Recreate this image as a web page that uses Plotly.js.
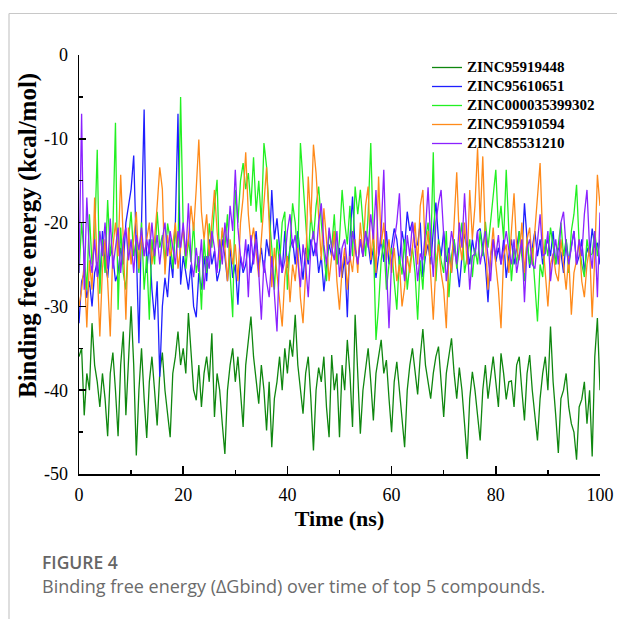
<!DOCTYPE html>
<html>
<head>
<meta charset="utf-8">
<script src="https://cdn.plot.ly/plotly-3.0.1.min.js"></script>
<style>
html,body{margin:0;padding:0;background:#fff;}
#chart{width:617px;height:619px;}
</style>
</head>
<body>
<div id="chart"></div>
<script>
// Series names
const seriesNames = ["ZINC95919448", "ZINC95610651", "ZINC000035399302", "ZINC95910594", "ZINC85531210"];
const seriesColors = ["#0f870f", "#1f1fff", "#22f022", "#ff8a1a", "#8a22ff"];

// Time axis (ns), sampled every 0.5 ns
const timeStep = 0.5;

const zinc95919448 = [
-36,-35,-43,-38,-40,-32,-37,-39,-42,-38,
-41,-45.5,-38,-35.5,-40,-45.5,-37,-33,-43,-36,
-30,-37,-47.8,-40,-35,-41,-45.7,-39,-36,-40,
-44.2,-38,-35.5,-40,-43,-45.6,-38,-36,-33,-37,
-35,-38,-30.8,-36,-40,-41.2,-37,-42,-38,-36,
-39,-33.2,-43.2,-38,-40,-44,-47.6,-40,-37,-35,
-39,-36,-40,-44.4,-37,-34,-31.2,-36,-39,-41.6,
-37,-40,-44.8,-39,-46.8,-41,-39,-36,-40,-35,
-38,-34,-36,-31,-37,-40,-42.8,-38,-36,-41,
-47.2,-40,-37.3,-39,-36,-42,-45.6,-35.8,-40,-38,
-45.6,-37,-40,-34,-38,-44.4,-31,-38,-45.2,-40,
-37.3,-35,-39,-43.6,-38,-36,-34,-38,-36.4,-41,
-45,-39,-36.6,-40,-43,-46.8,-40,-37,-35,-38,
-40.5,-36,-32.7,-37,-39.3,-41,-38,-36,-34.8,-39,
-43.2,-38,-36,-33.8,-38,-41,-37.3,-40,-44,-48.2,
-41,-37.8,-40,-43,-46,-40,-37,-41,-38.5,-36,
-39,-42,-35.6,-38,-41.1,-39,-38.9,-42,-37,-36,
-40,-43.6,-38,-35.8,-40,-43,-46,-41,-38,-36,
-40,-32.4,-39,-43,-47.5,-41,-40,-38,-42,-44,
-45,-48.3,-42,-41.1,-39,-44,-40,-47.9,-36,-31.4,
-40];

const zinc95610651 = [
-32,-27,-26,-29,-27,-30,-26,-24.7,-27,-21,
-25,-26.6,-23,-24,-27,-26,-23,-25,-20,-18,
-16,-12,-24,-34.4,-20,-6.5,-26,-22,-28,-31.6,
-27,-38.4,-30,-26.6,-28.9,-24,-26.6,-20,-7,-27.4,
-24,-26,-28,-25,-30,-31.3,-26,-28,-24,-27,
-22,-25,-23.4,-27,-25.7,-22,-24,-27,-23,-26.6,
-25,-29.8,-24,-26,-25,-22.6,-26,-24,-21,-25.4,
-23,-26,-22,-24,-16.1,-22,-19.5,-23,-26,-21,
-25.4,-23,-22,-25,-21,-24,-26.8,-23,-25,-22,
-24,-22.4,-26,-24,-28.2,-25,-22.6,-24,-21,-25,
-23,-26.6,-24,-31.3,-22,-16.9,-23,-25,-22,-24.1,
-21,-22.4,-25,-23,-26.6,-24,-22,-24.7,-21,-25,
-23,-20.7,-22,-25,-21,-23,-18.7,-21,-19.9,-23,
-22.6,-20,-26.5,-24,-22.6,-25,-21,-17.6,-22,-24,
-21,-24.7,-23,-26,-22,-25,-27.7,-24,-21.3,-23,
-25,-22,-24,-21,-20.7,-23,-25,-29.5,-24,-22,
-24.7,-23,-25,-22,-26.6,-24,-22,-25,-23,-21,
-24,-17.7,-22,-25.4,-23,-21,-24,-22,-25,-23,
-22,-24,-21,-25,-23,-23.6,-26,-22,-24.7,-23,
-21,-25,-24,-22,-26,-23,-24,-20.7,-23,-22.4,
-25];

const zinc000035399302 = [
-26,-20,-24,-28,-19,-25,-22,-11.3,-28.5,-22,
-26,-17.3,-24,-21,-8.1,-30.4,-20.6,-26,-28,-22,
-18.7,-24,-22,-26,-20,-28,-24,-31.6,-22,-25,
-18.7,-23,-21.5,-25,-20.1,-22,-25.5,-21,-23,-5,
-20.6,-25.5,-22,-24.7,-20,-26,-24,-30.4,-22,-26,
-20.1,-23,-18,-14.9,-25.5,-21,-23,-19,-26,-31.3,
-16.1,-20,-15,-12.9,-16,-14.1,-18,-12.2,-18.7,-15,
-20,-10.5,-13.3,-19,-23,-28,-22,-25,-20,-18.7,
-28,-22,-17.7,-20,-24,-10.5,-15.3,-21,-24.5,-19,
-22,-18,-15.7,-20,-24,-27,-21,-23,-19,-25,
-22,-16.1,-20,-22.6,-18,-24,-15.7,-19,-16.1,-20.6,
-24,-19,-10.5,-22,-34,-30,-24.5,-22,-28,-25,
-23,-27,-30.4,-24,-26.2,-22,-28,-25,-23,-26,
-31.6,-24.5,-28,-22,-20,-24,-11.6,-27,-22,-24.5,
-26,-21,-28.9,-24,-22,-25.5,-23,-20,-26,-24,
-22,-26.5,-23,-25,-21,-24,-19.9,-23,-20,-17,
-13.7,-20.6,-18,-22,-13.7,-21,-27,-23,-25,-21,
-24.5,-27,-22,-25,-23,-27,-31.8,-25,-26.5,-22,
-24,-20.6,-23,-25,-22.6,-20,-24,-22,-26,-21,
-19,-15.5,-22.6,-25,-26.5,-22,-24,-23.7,-21,-24,
-22];

const zinc95910594 = [
-30,-28,-25,-32.5,-24.5,-28,-17,-26,-33.6,-25.5,
-22,-27,-33.6,-23,-20,-24,-14.3,-22,-31.6,-20.6,
-25,-22,-18.7,-25.5,-21.5,-24,-22,-20,-25,-22,
-18,-13.4,-16,-26.2,-21.5,-24,-22.6,-20,-25.5,-23,
-20.6,-24,-22,-18,-21,-16,-10.1,-18.7,-22,-19,
-24,-20,-16.1,-21,-24.5,-20.6,-23,-27,-22,-25,
-22.6,-27,-20,-17,-11.6,-19,-22.6,-20.6,-24,-26.5,
-22,-18,-13.4,-20,-27.7,-23,-26,-29,-32.4,-26.5,
-24,-29.5,-25,-27,-23,-29,-32,-26,-14.5,-20,
-10.7,-14.1,-20,-24.5,-18.3,-22,-27,-24,-21,-27,
-30.4,-25.5,-23,-28,-24,-25.9,-22,-26,-20,-24,
-18,-15.7,-24.5,-21,-26,-14.5,-22.6,-20,-24.5,-22,
-26,-23,-27,-25,-30,-27.7,-24,-26,-22.6,-20,
-25,-18,-16.1,-24,-21,-27,-31.6,-25,-22.6,-26,
-28,-32.6,-23.7,-26,-20,-14,-22,-24.5,-20,-25,
-16.1,-22,-18,-11.1,-20,-12.1,-22,-28,-24,-20.6,
-25,-28,-32.6,-24,-22.6,-26,-21,-16.5,-23,-24.5,
-20,-26,-22,-20.6,-25,-21,-18,-12.9,-22,-26,
-30,-25,-23.7,-26,-27,-22,-25,-28,-24,-31,
-26,-24.5,-22,-27,-28.9,-25,-23,-31.3,-24,-14.3,
-18];

const zinc85531210 = [
-26,-7,-28,-17,-23.7,-26,-22,-26.5,-21,-24,
-20,-25.5,-19.5,-25.5,-23,-20.6,-26,-22,-20.6,-24.5,
-22,-26,-21.5,-23.3,-20.6,-24,-22,-23.7,-20,-24,
-21.5,-25,-22,-20,-24,-21,-23,-25,-21,-23,
-20,-24,-17.7,-24.5,-26.5,-23,-25.9,-22,-28,-24,
-25.5,-21,-23,-26,-22,-25,-20,-23,-18,-21,
-13.7,-20.6,-24,-25.5,-22,-28.9,-21.5,-25,-22,-26,
-31.6,-24.5,-27,-28.9,-24,-29,-33,-23.7,-26,-24.5,
-21,-19,-23,-21.5,-25,-27.7,-22.6,-25,-28.9,-23,
-21,-24,-20,-17.7,-22.6,-25,-20.6,-23,-24.5,-21,
-26.5,-23,-22,-25,-24.5,-21,-23,-25,-22,-24,
-21,-23,-19,-22,-16.1,-24,-21,-13.7,-25,-32.6,
-24.5,-22,-20,-16.5,-24,-27,-21.5,-24,-20,-23,
-27,-23.7,-24.5,-21,-15.8,-22,-26.5,-20,-17.7,-16.1,
-22,-27,-24,-21,-23,-25,-20,-23,-16.5,-22,
-28,-24,-23.7,-21,-25,-23,-21,-24,-27,-22,
-24,-21.5,-25,-23,-21,-23.3,-25,-22,-26,-24,
-22,-29.5,-23,-22,-25,-25.5,-22,-19,-24,-23.7,
-21,-27,-24,-22,-25,-20,-18.7,-23,-25,-23,
-21,-25,-22,-24,-19,-16.1,-23,-25.5,-21,-28.9,
-18.8];

const seriesValues = [zinc95919448, zinc95610651, zinc000035399302, zinc95910594, zinc85531210];

const xTickVals = [0, 20, 40, 60, 80, 100];
const yTickVals = [-50, -40, -30, -20, -10, 0];

const traces = seriesValues.map((vals, k) => ({
  type: "scatter",
  mode: "lines",
  name: "<span style='font-size:15px'>" + seriesNames[k] + "</span>",
  x: vals.map((_, i) => i * timeStep),
  y: vals,
  line: {color: seriesColors[k], width: 1.3},
  hoverinfo: "skip"
}));

// pixel helpers for annotation/shape placement (plot area 79..600 x 55..474)
const L = 79, R = 600, T = 55, B = 474;
const px = v => (v - L) / (R - L);
const py = v => (B - v) / (B - T);

const serif = "Liberation Serif, Times New Roman, serif";
const sans = "Open Sans, Noto Sans, sans-serif";

const layout = {
  width: 617, height: 619,
  margin: {l: L, r: 617 - R, t: T, b: 619 - B, pad: 0},
  paper_bgcolor: "#fff", plot_bgcolor: "#fff",
  showlegend: true,
  legend: {
    x: px(427), y: py(53), xanchor: "left", yanchor: "top",
    bgcolor: "rgba(0,0,0,0)",
    font: {family: serif, size: 12, color: "#000", weight: "bold"},
    tracegroupgap: 0,
    itemwidth: 30
  },
  xaxis: {
    range: [0, 100],
    tickvals: xTickVals,
    ticktext: xTickVals.map(String),
    showgrid: false, zeroline: false,
    showline: true, linecolor: "#000", linewidth: 1.5,
    ticks: "inside", ticklen: 8, tickwidth: 1.5, tickcolor: "#000",
    minor: {ticks: "inside", ticklen: 4, tickwidth: 1.5, tickcolor: "#000", dtick: 10, tick0: 0, showgrid: false},
    tickfont: {family: serif, size: 18, color: "#000"},
    ticklabelstandoff: 4,
    title: {text: "Time (ns)", font: {family: serif, size: 22, color: "#000", weight: "bold"}, standoff: 6}
  },
  yaxis: {
    range: [-50, 0],
    tickvals: yTickVals,
    ticktext: yTickVals.map(String),
    showgrid: false, zeroline: false,
    showline: true, linecolor: "#000", linewidth: 1.5,
    ticks: "inside", ticklen: 7, tickwidth: 1.5, tickcolor: "#000",
    minor: {ticks: "inside", ticklen: 4, tickwidth: 1.5, tickcolor: "#000", dtick: 5, tick0: 0, showgrid: false},
    tickfont: {family: serif, size: 18, color: "#000"},
    ticklabelstandoff: 6
  },
  annotations: [
    {xref: "paper", yref: "paper", x: px(28), y: py(236), xanchor: "center", yanchor: "middle",
     text: "Binding free energy (kcal/mol)", textangle: -90, showarrow: false,
     font: {family: serif, size: 25, color: "#000", weight: "bold"}},
    {xref: "paper", yref: "paper", x: px(40), y: py(562), xanchor: "left", yanchor: "middle",
     text: "FIGURE 4", showarrow: false,
     font: {family: sans, size: 17.5, color: "#666666", weight: 600}},
    {xref: "paper", yref: "paper", x: px(40), y: py(586), xanchor: "left", yanchor: "middle",
     text: "Binding free energy (\u0394Gbind) over time of top 5 compounds.", showarrow: false,
     font: {family: sans, size: 18, color: "#6b6b6b"}}
  ],
  shapes: [
    {type: "line", xref: "paper", yref: "paper", x0: px(9), x1: px(640), y0: py(13.5), y1: py(13.5),
     line: {color: "#c8c8c8", width: 1.2}},
    {type: "line", xref: "paper", yref: "paper", x0: px(9), x1: px(9), y0: py(13.5), y1: py(640),
     line: {color: "#c8c8c8", width: 1.2}}
  ]
};

Plotly.newPlot("chart", traces, layout, {displayModeBar: false, staticPlot: true});
</script>
</body>
</html>
